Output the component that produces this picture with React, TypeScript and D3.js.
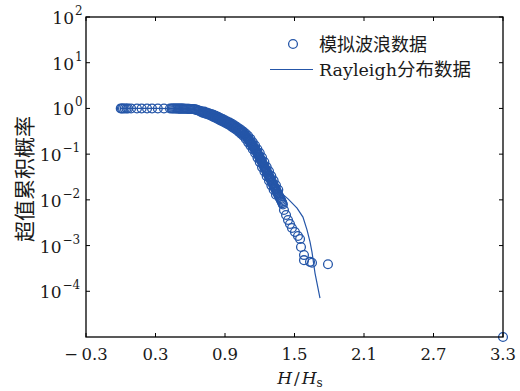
import React from "react";
import * as d3 from "d3";

const W = 520;
const H = 391;

// Simulated wave data (H/Hs, exceedance probability) — sparse low end and tail
const waveX = [
  0.0, 0.01, 0.02, 0.035, 0.05, 0.063, 0.089, 0.14, 0.18, 0.227, 0.27, 0.32, 0.373, 0.425,
  1.409, 1.427, 1.444, 1.461, 1.478, 1.504, 1.53, 1.548, 1.556, 1.582, 1.582, 1.634, 1.651, 1.789, 3.3,
];
const waveP = [
  1.0, 1.0, 1.0, 1.0, 1.0, 1.0, 1.0, 0.999, 0.999, 0.998, 0.998, 0.997, 0.997, 0.996,
  0.006, 0.00466, 0.00362, 0.00296, 0.00242, 0.00198, 0.00162, 0.00139, 0.00093, 0.00062,
  0.00048, 0.00044, 0.00042, 0.00039, 0.00001,
];

// Simulated wave data — dense main band
const denseX = [
  0.44, 0.45, 0.46, 0.47, 0.48, 0.49, 0.5, 0.51, 0.52, 0.53, 0.54, 0.55, 0.56, 0.57, 0.58, 0.59,
  0.6, 0.61, 0.62, 0.63, 0.64, 0.65, 0.66, 0.67, 0.68, 0.69, 0.7, 0.71, 0.72, 0.73, 0.74, 0.75,
  0.76, 0.77, 0.78, 0.79, 0.8, 0.81, 0.82, 0.83, 0.84, 0.85, 0.86, 0.87, 0.88, 0.89, 0.9, 0.91,
  0.92, 0.93, 0.94, 0.95, 0.96, 0.97, 0.98, 0.99, 1.0, 1.01, 1.02, 1.03, 1.04, 1.05, 1.06, 1.07,
  1.08, 1.09, 1.1, 1.11, 1.12, 1.13, 1.14, 1.15, 1.16, 1.17, 1.18, 1.19, 1.2, 1.21, 1.22, 1.23,
  1.24, 1.25, 1.26, 1.27, 1.28, 1.29, 1.3, 1.31, 1.32, 1.33, 1.34, 1.35, 1.36, 1.37, 1.38, 1.39, 1.4,
];
const denseP = [
  0.996, 0.996, 0.995, 0.995, 0.994, 0.993, 0.992, 0.991, 0.99, 0.989, 0.988, 0.986, 0.985, 0.983, 0.98, 0.978,
  0.975, 0.972, 0.968, 0.962, 0.955, 0.94, 0.92, 0.9, 0.884, 0.868, 0.851, 0.834, 0.817, 0.8, 0.785, 0.771,
  0.758, 0.743, 0.729, 0.713, 0.693, 0.673, 0.654, 0.636, 0.617, 0.6, 0.582, 0.566, 0.549, 0.533, 0.517, 0.502,
  0.488, 0.474, 0.46, 0.444, 0.428, 0.411, 0.395, 0.379, 0.365, 0.351, 0.338, 0.322, 0.307, 0.292, 0.278, 0.265,
  0.249, 0.231, 0.215, 0.199, 0.181, 0.167, 0.154, 0.14, 0.128, 0.117, 0.106, 0.094, 0.084, 0.075, 0.067, 0.059,
  0.052, 0.047, 0.042, 0.037, 0.033, 0.0295, 0.0263, 0.0233, 0.0208, 0.0185, 0.0166, 0.0148, 0.013, 0.0116, 0.0103, 0.0091, 0.0079,
];

// Simulated wave data — extra samples in the steep part of the band
const midX = [
  1.105, 1.115, 1.125, 1.135, 1.145, 1.155, 1.165, 1.175, 1.185, 1.195, 1.205, 1.215, 1.225, 1.235, 1.245,
  1.255, 1.265, 1.275, 1.285, 1.295, 1.305, 1.315, 1.325, 1.335, 1.345, 1.355, 1.365, 1.375, 1.385, 1.395,
];
const midP = [
  0.207, 0.19, 0.174, 0.16, 0.147, 0.134, 0.122, 0.111, 0.1, 0.089, 0.0795, 0.071, 0.063, 0.0555, 0.0495,
  0.0445, 0.0395, 0.035, 0.0312, 0.0279, 0.0248, 0.022, 0.0196, 0.0175, 0.0157, 0.0139, 0.0123, 0.0109, 0.0097, 0.0085,
];

// Simulated wave data — scatter on the right edge of the band
const spreadRX = [
  0.72, 0.74, 0.76, 0.78, 0.8, 0.82, 0.84, 0.86, 0.88, 0.9, 0.92, 0.94, 0.96, 0.98, 1.0, 1.02, 1.04,
  1.06, 1.08, 1.1, 1.12, 1.14, 1.16, 1.18, 1.2, 1.22, 1.24, 1.26, 1.28, 1.3, 1.32, 1.34, 1.36,
];
const spreadRP = [
  0.851, 0.817, 0.785, 0.758, 0.729, 0.693, 0.654, 0.617, 0.582, 0.549, 0.517, 0.488, 0.46, 0.428, 0.395, 0.365, 0.338,
  0.307, 0.278, 0.249, 0.215, 0.181, 0.154, 0.128, 0.106, 0.084, 0.067, 0.052, 0.042, 0.033, 0.0263, 0.0208, 0.0166,
];
// Simulated wave data — scatter on the left edge of the band
const spreadLX = [
  0.7, 0.72, 0.74, 0.76, 0.78, 0.8, 0.82, 0.84, 0.86, 0.88, 0.9, 0.92, 0.94, 0.96, 0.98, 1.0, 1.02,
  1.04, 1.06, 1.08, 1.1, 1.12, 1.14, 1.16, 1.18, 1.2, 1.22, 1.24, 1.26, 1.28, 1.3, 1.32, 1.34,
];
const spreadLP = [
  0.817, 0.785, 0.758, 0.729, 0.693, 0.654, 0.617, 0.582, 0.549, 0.517, 0.488, 0.46, 0.428, 0.395, 0.365, 0.338, 0.307,
  0.278, 0.249, 0.215, 0.181, 0.154, 0.128, 0.106, 0.084, 0.067, 0.052, 0.042, 0.033, 0.0263, 0.0208, 0.0166, 0.013,
];

// Rayleigh distribution line
const rayX = [0.0, 0.3, 0.45, 0.6, 0.7, 0.8, 0.9, 1.0, 1.1, 1.2, 1.3, 1.38, 1.444, 1.522, 1.573, 1.608, 1.634, 1.651, 1.677, 1.72];
const rayP = [1.0, 0.998, 0.995, 0.975, 0.86, 0.69, 0.52, 0.37, 0.21, 0.088, 0.03, 0.0145, 0.0105, 0.0066, 0.0042, 0.0022, 0.0012, 0.00072, 0.00025, 0.000071];

const xTicks = [-0.3, 0.3, 0.9, 1.5, 2.1, 2.7, 3.3];
const yExps = [2, 1, 0, -1, -2, -3, -4];

const BLUE = "#2556a8";
const SERIF = "'DejaVu Serif', 'Noto Sans CJK SC', serif";
const CJK = "'Noto Sans CJK SC', sans-serif";

export default function App() {
  const left = 86, right = 503, top = 17, bottom = 337;
  const x = d3.scaleLinear().domain([-0.3, 3.3]).range([left, right]);
  const y = d3.scaleLog().domain([1e-5, 1e2]).range([bottom, top]);

  const line = d3
    .line<number>()
    .x((_, i) => x(rayX[i]))
    .y((_, i) => y(rayP[i]));

  const fmt = (v: number) => (v < 0 ? "\u2212\u2009" + Math.abs(v).toFixed(1) : v.toFixed(1));

  const sets: [number[], number[]][] = [
    [waveX, waveP],
    [denseX, denseP],
    [midX, midP],
    [spreadRX, spreadRP],
    [spreadLX, spreadLP],
  ];

  return (
    <svg width={W} height={H} style={{ position: "absolute", left: 0, top: 0, background: "#fff" }}>
      <rect x={0} y={0} width={W} height={H} fill="#fff" />
      {/* data */}
      <path d={line(rayX) || ""} fill="none" stroke={BLUE} strokeWidth={1.2} />
      {sets.map(([xs, ps], s) =>
        xs.map((v, i) => (
          <circle key={s + "-" + i} cx={x(v)} cy={y(ps[i])} r={4.4} fill="none" stroke={BLUE} strokeWidth={1.3} />
        ))
      )}
      {/* box */}
      <rect x={left} y={top} width={right - left} height={bottom - top} fill="none" stroke="#000" strokeWidth={1.3} />
      {/* x ticks */}
      {xTicks.map((t) => (
        <g key={"x" + t}>
          <line x1={x(t)} x2={x(t)} y1={bottom} y2={bottom - 4} stroke="#000" strokeWidth={1} />
          <line x1={x(t)} x2={x(t)} y1={top} y2={top + 4} stroke="#000" strokeWidth={1} />
          <text x={x(t)} y={360} textAnchor="middle" fontFamily={SERIF} fontSize={16.5} fill="#1a1a1a">
            {fmt(t)}
          </text>
        </g>
      ))}
      {/* y ticks */}
      {yExps.map((e) => {
        const yy = y(Math.pow(10, e));
        const neg = e < 0;
        return (
          <g key={"y" + e}>
            <line x1={left} x2={left + 4} y1={yy} y2={yy} stroke="#000" strokeWidth={1} />
            <line x1={right} x2={right - 4} y1={yy} y2={yy} stroke="#000" strokeWidth={1} />
            <text x={neg ? 61.5 : 74} y={yy + 7} textAnchor="end" fontFamily={SERIF} fontSize={17} fill="#1a1a1a">
              10
            </text>
            <text x={neg ? 62.5 : 75} y={yy - 2} textAnchor="start" fontFamily={SERIF} fontSize={12} fill="#1a1a1a">
              {neg ? "\u2212" + Math.abs(e) : String(e)}
            </text>
          </g>
        );
      })}
      {/* axis labels */}
      <text x={300} y={384} textAnchor="middle" fontFamily={SERIF} fontSize={17} fill="#1a1a1a">
        <tspan fontStyle="italic">H</tspan>
        <tspan dx={2}>/</tspan>
        <tspan dx={2} fontStyle="italic">H</tspan>
        <tspan fontSize={12} dy={3}>s</tspan>
      </text>
      <text
        transform={`translate(32, ${(top + bottom) / 2 + 2}) rotate(-90)`}
        textAnchor="middle"
        fontFamily={CJK}
        fontSize={21}
        fill="#1a1a1a"
      >
        超值累积概率
      </text>
      {/* legend */}
      <circle cx={293} cy={44} r={4.4} fill="none" stroke={BLUE} strokeWidth={1.3} />
      <text x={319} y={51} fontFamily={CJK} fontSize={18} fill="#1a1a1a">
        模拟波浪数据
      </text>
      <line x1={270} x2={313} y1={69.5} y2={69.5} stroke={BLUE} strokeWidth={1.2} />
      <text x={319} y={76} fontFamily={SERIF} fontSize={17.5} fill="#1a1a1a">
        Rayleigh
        <tspan fontFamily={CJK} fontSize={18.5}>分布数据</tspan>
      </text>
    </svg>
  );
}
